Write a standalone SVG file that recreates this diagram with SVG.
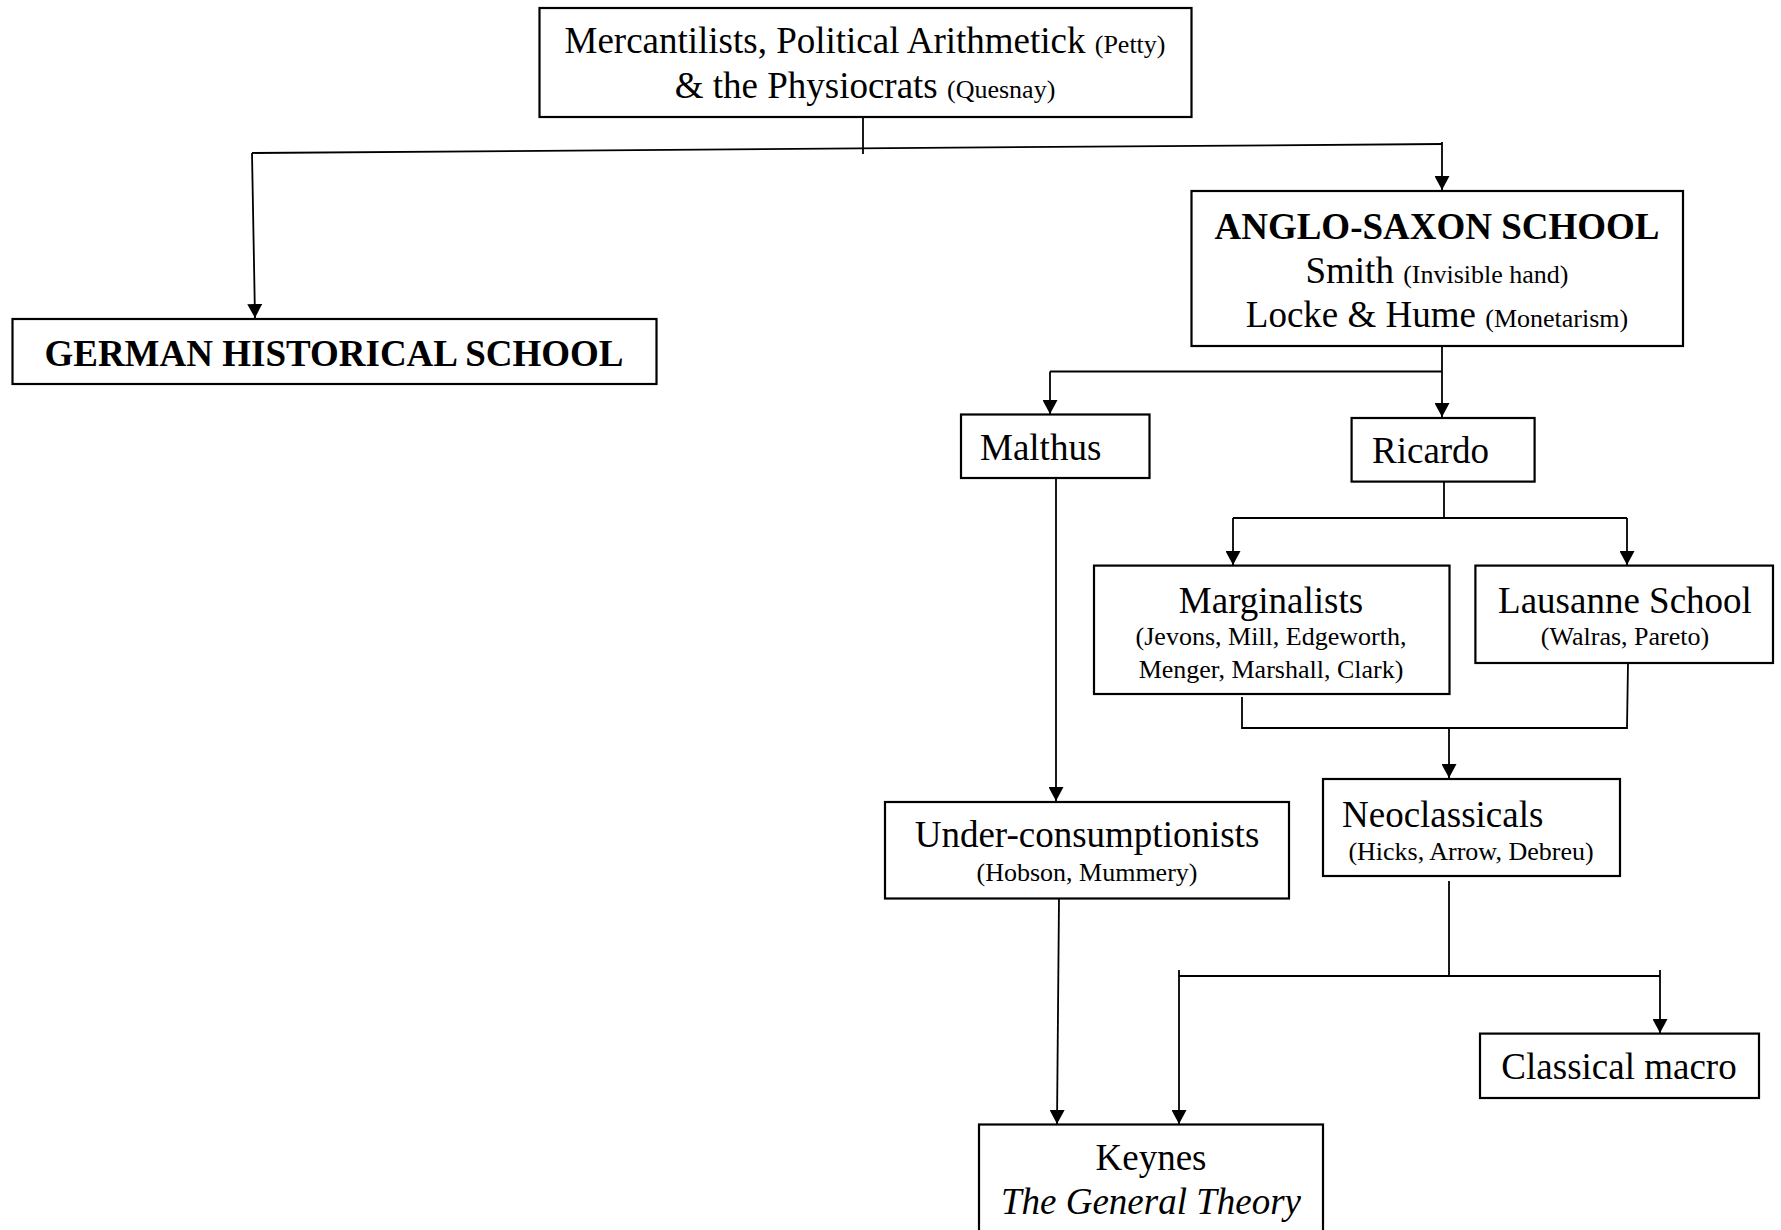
<svg xmlns="http://www.w3.org/2000/svg" width="1781" height="1230" viewBox="0 0 1781 1230">
<style>
  .box { fill: #fff; stroke: #000; stroke-width: 2.2; }
  .t { font-family: "Liberation Serif", "Times New Roman", serif; font-size: 37px; fill: #000; }
  .c { text-anchor: middle; }
  .b { font-weight: bold; }
  .s { font-size: 26px; }
  .i { font-style: italic; }
  .con { fill: none; stroke: #000; stroke-width: 1.8; }
</style>
<defs>
  <marker id="arr" viewBox="0 0 14 15" refX="14" refY="7.5" markerWidth="14" markerHeight="15" markerUnits="userSpaceOnUse" orient="auto">
    <path d="M0,0 L14,7.5 L0,15 Z" fill="#000"/>
  </marker>
</defs>
<rect width="1781" height="1230" fill="#fff"/>
<g id="connectors">
  <path class="con" d="M863,117 L863,154"/>
  <path class="con" d="M252,153 L1442,144"/>
  <path class="con" d="M252,153 L255,318" marker-end="url(#arr)"/>
  <path class="con" d="M1442,142 L1442,190" marker-end="url(#arr)"/>
  <path class="con" d="M1442,346 L1442,417" marker-end="url(#arr)"/>
  <path class="con" d="M1050,371.5 L1442,371.5"/>
  <path class="con" d="M1050,371.5 L1050,414" marker-end="url(#arr)"/>
  <path class="con" d="M1444,482 L1444,518"/>
  <path class="con" d="M1233,518 L1627,518"/>
  <path class="con" d="M1233,518 L1233,565" marker-end="url(#arr)"/>
  <path class="con" d="M1627,518 L1627,565" marker-end="url(#arr)"/>
  <path class="con" d="M1242,697 L1242,728 L1627,728 L1628,663"/>
  <path class="con" d="M1449,728 L1449,778" marker-end="url(#arr)"/>
  <path class="con" d="M1056,478 L1056,801" marker-end="url(#arr)"/>
  <path class="con" d="M1059,899 L1057,1124" marker-end="url(#arr)"/>
  <path class="con" d="M1449,881 L1449,976"/>
  <path class="con" d="M1179,976 L1660,976"/>
  <path class="con" d="M1179,970 L1179,1124" marker-end="url(#arr)"/>
  <path class="con" d="M1660,970 L1660,1033" marker-end="url(#arr)"/>
</g>
<g id="mercantilists">
  <rect class="box" x="539.5" y="8" width="652" height="109"/>
  <text class="t c" x="865" y="53">Mercantilists, Political Arithmetick <tspan class="s">(Petty)</tspan></text>
  <text class="t c" x="865" y="98">&amp; the Physiocrats <tspan class="s">(Quesnay)</tspan></text>
</g>
<g id="german">
  <rect class="box" x="12.5" y="319" width="644" height="65"/>
  <text class="t c b" x="334" y="366">GERMAN HISTORICAL SCHOOL</text>
</g>
<g id="anglosaxon">
  <rect class="box" x="1191.5" y="191" width="491.5" height="155"/>
  <text class="t c b" x="1437" y="239">ANGLO-SAXON SCHOOL</text>
  <text class="t c" x="1437" y="283">Smith <tspan class="s">(Invisible hand)</tspan></text>
  <text class="t c" x="1437" y="327">Locke &amp; Hume <tspan class="s">(Monetarism)</tspan></text>
</g>
<g id="malthus">
  <rect class="box" x="961" y="414.5" width="188.5" height="63.5"/>
  <text class="t" x="980" y="460">Malthus</text>
</g>
<g id="ricardo">
  <rect class="box" x="1351.6" y="418" width="183" height="63.6"/>
  <text class="t" x="1372" y="463">Ricardo</text>
</g>
<g id="marginalists">
  <rect class="box" x="1094" y="565.6" width="355.5" height="128.4"/>
  <text class="t c" x="1271" y="613">Marginalists</text>
  <text class="t c s" x="1271" y="645">(Jevons, Mill, Edgeworth,</text>
  <text class="t c s" x="1271" y="678">Menger, Marshall, Clark)</text>
</g>
<g id="lausanne">
  <rect class="box" x="1475.4" y="565.6" width="297.6" height="97.4"/>
  <text class="t c" x="1625" y="613">Lausanne School</text>
  <text class="t c s" x="1625" y="645">(Walras, Pareto)</text>
</g>
<g id="neoclassicals">
  <rect class="box" x="1323" y="779" width="297" height="97"/>
  <text class="t" x="1342" y="827">Neoclassicals</text>
  <text class="t c s" x="1471" y="860">(Hicks, Arrow, Debreu)</text>
</g>
<g id="underconsumptionists">
  <rect class="box" x="885" y="802" width="404" height="96.5"/>
  <text class="t c" x="1087" y="847">Under-consumptionists</text>
  <text class="t c s" x="1087" y="881">(Hobson, Mummery)</text>
</g>
<g id="classicalmacro">
  <rect class="box" x="1480" y="1033.6" width="279" height="64.4"/>
  <text class="t c" x="1619" y="1079">Classical macro</text>
</g>
<g id="keynes">
  <rect class="box" x="979" y="1124.5" width="344" height="120"/>
  <text class="t c" x="1151" y="1170">Keynes</text>
  <text class="t c i" x="1151" y="1214">The General Theory</text>
</g>
</svg>
